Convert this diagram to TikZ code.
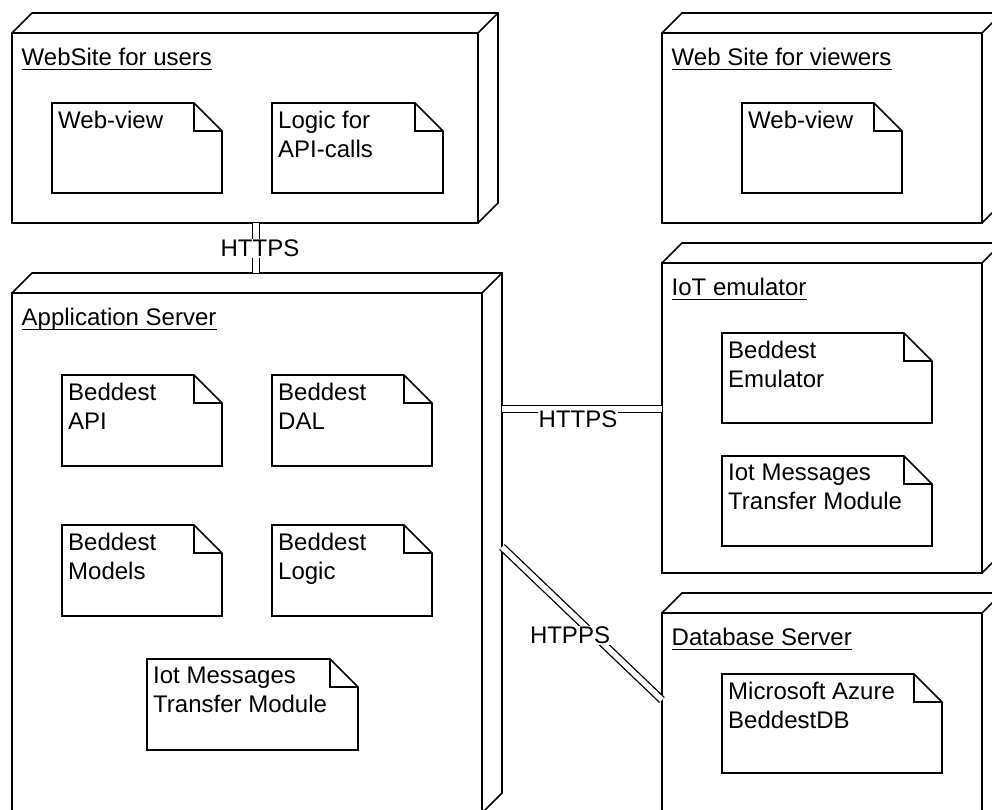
\documentclass[tikz,border=0pt]{standalone}
\usepackage{fontspec}
\setmainfont{Liberation Sans}
\usetikzlibrary{calc}

\tikzset{
  lw/.style={line width=1.6pt, draw=black, line join=miter},
  devbox/.style={lw, fill=white, anchor=north west, inner sep=0pt, outer sep=0pt},
  notebox/.style={anchor=north west, inner sep=0pt, outer sep=0pt},
  notetext/.style={anchor=north west, inner sep=0pt, align=left},
  nodetitle/.style={anchor=base west, inner sep=0pt},
  uline/.style={line width=1.4pt, draw=black},
  link/.style={draw=black, line width=1.3pt, double=white, double distance=5.5pt},
  linklabel/.style={fill=white, inner sep=1pt}
}

% UML document note with a folded corner
\newcommand\docnote[6]{%
  \node[notebox, minimum width=#4pt, minimum height=#5pt] (#1) at (#2,#3) {};
  \draw[lw, fill=white] (#1.north west) -- ([xshift=-28pt]#1.north east)
    -- ([yshift=-28pt]#1.north east) -- (#1.south east) -- (#1.south west) -- cycle;
  \draw[lw] ([xshift=-28pt]#1.north east) |- ([yshift=-28pt]#1.north east);
  \node[notetext] (#1-text) at ([shift={(6pt,-8pt)}]#1.north west) {#6};
}

% UML deployment node drawn as a box with depth
\newcommand\devnode[6]{%
  \node[devbox, minimum width=#4pt, minimum height=#5pt] (#1) at (#2,#3) {};
  \draw[lw] (#1.north west) -- ++(20pt,20pt) -- ($(#1.north east)+(20pt,20pt)$)
    -- ($(#1.south east)+(20pt,20pt)$) -- (#1.south east);
  \draw[lw] (#1.north east) -- ++(20pt,20pt);
  \node[nodetitle] (#1-title) at ([shift={(9.5pt,-32pt)}]#1.north west) {#6};
  \draw[uline] ([yshift=-4.5pt]#1-title.base west) -- ([yshift=-4.5pt]#1-title.base east);
}

\begin{document}
\begin{tikzpicture}[x=1pt, y=-1pt,
  every node/.append style={font=\fontsize{24}{28.5}\selectfont}]
  \useasboundingbox (0,0) rectangle (992,809);
  \fill[white] (0,0) rectangle (992,809);
  \clip (0,0) rectangle (992,809);

  % deployment nodes
  \devnode{users}{12}{33}{466}{190}{WebSite for users}
  \devnode{viewers}{662}{33}{320}{190}{Web Site for viewers}
  \devnode{app}{12}{293}{470}{520}{Application Server}
  \devnode{iot}{662}{263}{320}{310}{IoT emulator}
  \devnode{db}{662}{613}{320}{240}{Database Server}

  % artifacts
  \docnote{uweb}{52}{103}{170}{90}{Web-view}
  \docnote{ulogic}{272}{103}{171}{90}{Logic for\\API-calls}
  \docnote{vweb}{742}{103}{160}{90}{Web-view}
  \docnote{api}{62}{375}{160}{91}{Beddest\\API}
  \docnote{dal}{272}{375}{160}{91}{Beddest\\DAL}
  \docnote{models}{62}{525}{160}{91}{Beddest\\Models}
  \docnote{blogic}{272}{525}{160}{91}{Beddest\\Logic}
  \docnote{appmsg}{147}{659}{211}{91}{Iot Messages\\Transfer Module}
  \docnote{emu}{722}{333}{210}{90}{Beddest\\Emulator}
  \docnote{iotmsg}{722}{456}{210}{90}{Iot Messages\\Transfer Module}
  \docnote{azure}{722}{674}{220}{99}{Microsoft Azure\\BeddestDB}

  % communication paths
  \coordinate (apptop) at ([yshift=20pt]app.north);
  \draw[link] ([xshift=11pt]users.south) coordinate (v1) -- (v1 |- apptop)
    node[linklabel, midway, xshift=4pt] (l1) {HTTPS};

  \draw[link] ([shift={(20pt,-116pt)}]app.north east) coordinate (h1) -- (h1 -| iot.west)
    node[linklabel, midway, anchor=north, xshift=-4pt] (l2) {HTTPS};

  \draw[link] ([shift={(20pt,-254pt)}]app.north east) -- ([yshift=-87pt]db.north west)
    node[linklabel, midway, xshift=-12pt, yshift=-12pt] (l3) {HTPPS};
\end{tikzpicture}
\end{document}
